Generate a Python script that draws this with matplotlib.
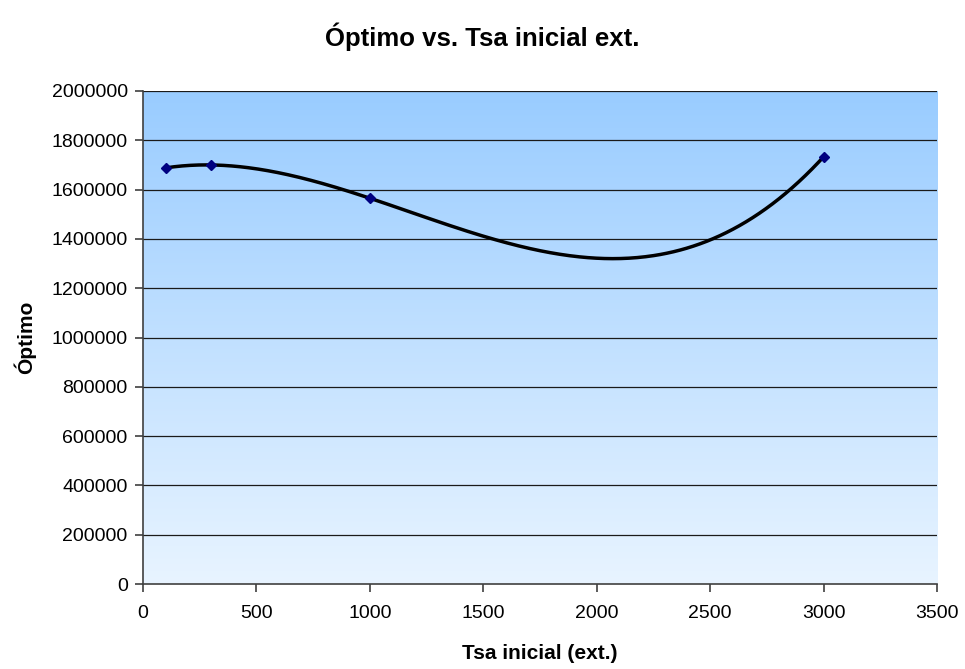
import numpy as np
import matplotlib
matplotlib.use("Agg")
import matplotlib.pyplot as plt
from matplotlib.colors import LinearSegmentedColormap

plt.rcParams['font.family'] = ['Liberation Sans', 'DejaVu Sans']

# Tsa inicial (ext.) vs. óptimo
tsa = [100, 300, 1000, 3000]
optimo = [1688000, 1700000, 1565000, 1733000]

x_ticks = [0, 500, 1000, 1500, 2000, 2500, 3000, 3500]
y_ticks = [0, 200000, 400000, 600000, 800000, 1000000, 1200000,
           1400000, 1600000, 1800000, 2000000]

fig = plt.figure(figsize=(9.65, 6.69), dpi=100)
ax = fig.add_axes([0.1482, 0.127, 0.8228, 0.737])

# degradado azul del área de trazado
grad = LinearSegmentedColormap.from_list('fondo', ['#E8F4FF', '#99CCFF'])
ax.imshow(np.linspace(0, 1, 256).reshape(-1, 1), cmap=grad, aspect='auto',
          extent=[0, 3500, 0, 2000000], origin='lower', zorder=0)

for yv in y_ticks[1:]:
    ax.axhline(yv, color='#1a1a1a', lw=0.9, zorder=1)

# curva suavizada (polinómica de orden 3 por los puntos)
coef = np.polyfit(tsa, optimo, 3)
xs = np.linspace(tsa[0], tsa[-1], 400)
ax.plot(xs, np.polyval(coef, xs), color='black', lw=2.5, zorder=3)
ax.plot(tsa, optimo, linestyle='none', marker='D', ms=5,
        color='#000080', zorder=4)

ax.set_xlim(0, 3500)
ax.set_ylim(0, 2000000)
ax.set_xticks(x_ticks)
ax.set_yticks(y_ticks)
ax.set_yticklabels([str(v) for v in y_ticks])
ax.tick_params(axis='both', labelsize=14, direction='out', length=6,
               width=1.2, color='#404040')
ax.tick_params(axis='x', pad=9)
ax.tick_params(axis='y', pad=5)

for side in ['top', 'right']:
    ax.spines[side].set_visible(False)
for side in ['left', 'bottom']:
    ax.spines[side].set_color('#404040')
    ax.spines[side].set_linewidth(1.2)

ax.set_xlabel('Tsa inicial (ext.)', fontsize=15, fontweight='bold')
ax.set_ylabel('Óptimo', fontsize=15, fontweight='bold')
ax.xaxis.set_label_coords(0.5, -0.122)
ax.yaxis.set_label_coords(-0.135, 0.5)
fig.text(0.5, 0.945, 'Óptimo vs. Tsa inicial ext.', ha='center', va='center',
         fontsize=18.5, fontweight='bold')

fig.savefig('out.png', dpi=100)
